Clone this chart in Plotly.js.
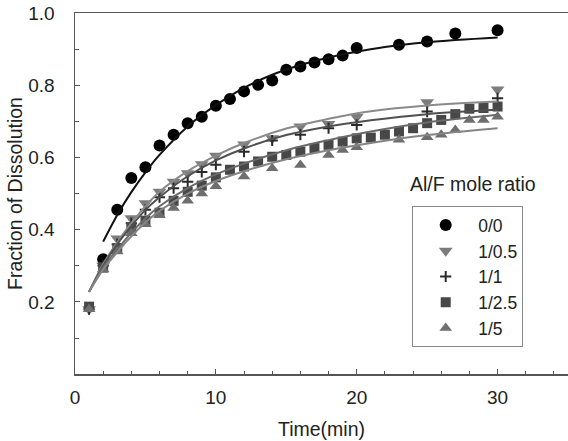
<!DOCTYPE html>
<html>
<head>
<meta charset="utf-8">
<script src="https://cdn.plot.ly/plotly-3.0.1.min.js"></script>
<style>html,body{margin:0;padding:0;background:#fff;}#chart{width:568px;height:441px;}</style>
</head>
<body>
<div id="chart"></div>
<script>
// ---- data ----
const seriesNames = ["0/0", "1/0.5", "1/1", "1/2.5", "1/5"];

const t00 = [2,3,4,5,6,7,8,9,10,11,12,13,14,15,16,17,18,19,20,23,25,27,30];
const v00 = [0.318,0.455,0.543,0.573,0.633,0.663,0.695,0.713,0.743,0.762,0.783,0.801,0.813,0.843,0.852,0.863,0.872,0.882,0.903,0.912,0.921,0.943,0.952];

const t05 = [1,2,3,4,5,6,7,8,9,10,12,14,16,18,20,25,30];
const v05 = [0.18,0.30,0.376,0.432,0.473,0.505,0.533,0.556,0.581,0.605,0.636,0.653,0.686,0.693,0.712,0.753,0.788];

const t11 = [1,2,3,4,5,6,7,8,9,10,12,14,16,18,20,25,30];
const v11 = [0.18,0.30,0.36,0.418,0.455,0.49,0.515,0.533,0.56,0.58,0.616,0.647,0.663,0.681,0.69,0.727,0.764];

const t25 = [1,2,3,4,5,6,7,8,9,10,11,12,13,14,15,16,17,18,19,20,21,22,23,24,25,26,27,28,29,30];
const v25 = [0.187,0.295,0.348,0.405,0.425,0.447,0.48,0.505,0.522,0.545,0.566,0.575,0.589,0.602,0.607,0.616,0.626,0.635,0.644,0.653,0.655,0.663,0.672,0.681,0.695,0.704,0.72,0.735,0.737,0.741];

const t5 = [1,2,3,4,5,6,7,8,9,10,12,14,16,18,19,20,23,25,26,27,28,29,30];
const v5 = [0.18,0.29,0.34,0.39,0.415,0.44,0.46,0.48,0.50,0.52,0.547,0.57,0.579,0.607,0.621,0.628,0.649,0.656,0.663,0.676,0.704,0.704,0.713];

// fitted curves
const fitT00 = [2,3,4,5,6,8,10,12,14,16,18,20,22,25,30];
const fitV00 = [0.367,0.441,0.504,0.559,0.607,0.686,0.745,0.793,0.829,0.856,0.877,0.893,0.906,0.919,0.932];

const fitT = [1,2,3,4,5,6,8,10,12,15,18,21,25,30];
const fitV05 = [0.228,0.305,0.365,0.418,0.465,0.505,0.562,0.605,0.640,0.680,0.707,0.728,0.744,0.755];
const fitV11 = [0.228,0.300,0.360,0.410,0.455,0.490,0.548,0.592,0.625,0.662,0.686,0.703,0.720,0.732];
const fitV25 = [0.228,0.295,0.345,0.392,0.432,0.465,0.515,0.553,0.583,0.620,0.648,0.672,0.697,0.718];
const fitV5  = [0.228,0.290,0.338,0.382,0.420,0.452,0.500,0.535,0.562,0.595,0.620,0.640,0.662,0.681];

const xTickVals = [0,10,20,30];
const yTickVals = [0.2,0.4,0.6,0.8,1.0];
const yTickText = ["0.2","0.4","0.6","0.8","1.0"];

// ---- traces ----
const markerTraces = [
  {x:t00, y:v00, name:seriesNames[0], mode:'markers', type:'scatter',
   marker:{symbol:'circle', size:12, color:'#000000'}},
  {x:t05, y:v05, name:seriesNames[1], mode:'markers', type:'scatter',
   marker:{symbol:'triangle-down', size:12, color:'#7c7c7c'}},
  {x:t11, y:v11, name:seriesNames[2], mode:'markers', type:'scatter',
   marker:{symbol:'cross-thin', size:8, color:'#2a2a2a', line:{color:'#2a2a2a', width:2}}},
  {x:t25, y:v25, name:seriesNames[3], mode:'markers', type:'scatter',
   marker:{symbol:'square', size:10, color:'#474747'}},
  {x:t5, y:v5, name:seriesNames[4], mode:'markers', type:'scatter',
   marker:{symbol:'triangle-up', size:11, color:'#6e6e6e'}}
];

const lineTraces = [
  {x:fitT00, y:fitV00, mode:'lines', type:'scatter', showlegend:false, hoverinfo:'skip',
   line:{color:'#111111', width:2, shape:'spline'}},
  {x:fitT, y:fitV05, mode:'lines', type:'scatter', showlegend:false, hoverinfo:'skip',
   line:{color:'#8a8a8a', width:2, shape:'spline'}},
  {x:fitT, y:fitV11, mode:'lines', type:'scatter', showlegend:false, hoverinfo:'skip',
   line:{color:'#505050', width:2, shape:'spline'}},
  {x:fitT, y:fitV25, mode:'lines', type:'scatter', showlegend:false, hoverinfo:'skip',
   line:{color:'#6a6a6a', width:2, shape:'spline'}},
  {x:fitT, y:fitV5, mode:'lines', type:'scatter', showlegend:false, hoverinfo:'skip',
   line:{color:'#858585', width:2, shape:'spline'}}
];

const font = 'Liberation Sans, Arial, sans-serif';

const layout = {
  width:568, height:441,
  margin:{l:75, r:0, t:13, b:67},
  paper_bgcolor:'#ffffff', plot_bgcolor:'#ffffff',
  font:{family:font, color:'#222222', size:19},
  showlegend:true,
  xaxis:{
    range:[0,35], showgrid:false, zeroline:false,
    showline:true, linecolor:'#555555', linewidth:1.5, mirror:true,
    tickmode:'array', tickvals:xTickVals,
    ticks:'inside', ticklen:5, tickcolor:'#555555', tickwidth:1,
    ticklabelstandoff:6,
    minor:{dtick:2, tick0:0, ticks:'inside', ticklen:3, tickcolor:'#555555', showgrid:false},
    tickfont:{size:19, family:font, color:'#222'},
    title:{text:'Time(min)', font:{size:19.5, family:font, color:'#222'}, standoff:15}
  },
  yaxis:{
    range:[0.0005,1.0], showgrid:false, zeroline:false,
    showline:true, linecolor:'#555555', linewidth:1.5,
    tickmode:'array', tickvals:yTickVals, ticktext:yTickText,
    ticks:'inside', ticklen:5, tickcolor:'#555555', tickwidth:1,
    ticklabelstandoff:15,
    minor:{dtick:0.1, tick0:0, ticks:'inside', ticklen:4, tickcolor:'#555555', showgrid:false},
    tickfont:{size:19, family:font, color:'#222'},
    title:{text:'Fraction of Dissolution', font:{size:19.5, family:font, color:'#222'}, standoff:0}
  },
  legend:{
    x:0.684, y:0.465, xanchor:'left', yanchor:'top',
    bgcolor:'#ffffff', bordercolor:'#888888', borderwidth:1,
    font:{size:17.5, family:font, color:'#222'},
    itemwidth:55, tracegroupgap:0
  },
  annotations:[
    {text:'Al/F mole ratio', xref:'paper', yref:'paper', x:0.94, y:0.525,
     xanchor:'right', yanchor:'middle', showarrow:false,
     font:{size:19.5, family:font, color:'#222'}}
  ]
};

Plotly.newPlot('chart', markerTraces.concat(lineTraces), layout, {displayModeBar:false, staticPlot:true});
</script>
</body>
</html>
